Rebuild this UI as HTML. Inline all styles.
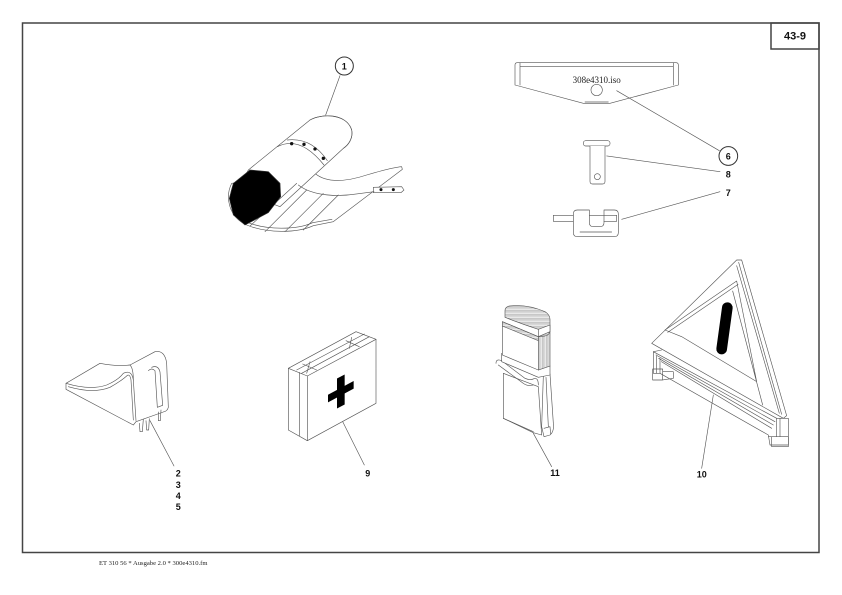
<!DOCTYPE html>
<html>
<head>
<meta charset="utf-8">
<style>
  html,body{margin:0;padding:0;background:#fff;}
  svg{display:block;}
  .d{fill:none;stroke:#555;stroke-width:1.9;stroke-linejoin:round;stroke-linecap:round;}
  .w{fill:#fff;stroke:#555;stroke-width:1.9;stroke-linejoin:round;}
  .lab{font-family:"Liberation Sans",Arial,sans-serif;font-weight:bold;font-size:9px;fill:#111;text-anchor:middle;}
</style>
</head>
<body>
<svg width="842" height="595" viewBox="0 0 842 595" xmlns="http://www.w3.org/2000/svg">
  <defs>
    <pattern id="hh" width="4" height="4" patternUnits="userSpaceOnUse">
      <rect width="4" height="4" fill="#fff"/>
      <line x1="0" y1="1" x2="4" y2="1" stroke="#777" stroke-width="1.2"/>
    </pattern>
    <pattern id="hv" width="4" height="4" patternUnits="userSpaceOnUse">
      <rect width="4" height="4" fill="#fff"/>
      <line x1="1" y1="0" x2="1" y2="4" stroke="#777" stroke-width="1.2"/>
    </pattern>
  </defs>

  <!-- frame -->
  <rect x="22.5" y="23" width="796.5" height="529.5" fill="none" stroke="#444" stroke-width="1.5"/>
  <rect x="771" y="23" width="48" height="26" fill="none" stroke="#444" stroke-width="1.5"/>
  <text x="795" y="39.5" font-family="Liberation Sans, Arial, sans-serif" font-weight="bold" font-size="11" text-anchor="middle" fill="#111">43-9</text>

  <!-- footer -->
  <text x="99" y="565" font-family="Liberation Serif, serif" font-size="6.6" fill="#222">ET 310 56 * Ausgabe 2.0 * 300e4310.fm</text>

  <!-- ITEM 1 : tarp/roll -->
  <g transform="translate(200,50) scale(0.33333)">
    <circle cx="433" cy="48" r="27" fill="#fff" stroke="#333" stroke-width="3"/>
    <path class="d" d="M420,77 L377,195"/>
    <path class="w" d="M345,370 C380,400 440,395 500,375 C550,360 580,352 605,350 L607,358 L400,515 L340,527 C290,550 200,550 140,525 C85,500 75,440 95,400 Z"/>
    <path class="d" d="M100,405 C82,445 92,495 145,518 C200,540 290,540 338,518 L396,508"/>
    <path class="w" d="M330,210 C365,190 440,190 455,240 C460,265 445,285 430,295 L240,470 L110,420 L145,360 Z"/>
    <path class="d" d="M330,210 C365,190 440,190 455,240 C460,265 445,285 430,295"/>
    <path class="d" d="M232,290 Q300,255 372,345"/>
    <path class="d" d="M262,270 Q335,262 382,332"/>
    <circle cx="275" cy="281" r="5" fill="#111"/>
    <circle cx="312" cy="283" r="5" fill="#111"/>
    <circle cx="345" cy="297" r="5" fill="#111"/>
    <circle cx="370" cy="325" r="5" fill="#111"/>
    <path class="w" d="M520,412 L605,410 L612,420 L603,428 L520,428 Z"/>
    <circle cx="543" cy="419" r="4.5" fill="#111"/>
    <circle cx="580" cy="419" r="4.5" fill="#111"/>
    <path class="d" d="M295,405 C340,440 420,440 470,432 L522,425"/>
    <path class="d" d="M320,420 L195,545 M370,430 L255,545 M415,435 L310,540 M290,400 L150,528"/>
    <path d="M100,400 L150,360 L205,365 L240,400 L242,440 L205,488 L135,525 L100,495 L88,445 Z" fill="#000" stroke="#333" stroke-width="2"/>
  </g>
  <text class="lab" x="344.3" y="69.5">1</text>

  <!-- ITEMS 6, 8, 7 -->
  <g transform="translate(500,20) scale(0.33333)">
    <path class="w" d="M45,135 Q45,128 52,128 L528,128 Q535,128 535,135 L535,195 L330,250 L250,250 L45,195 Z"/>
    <path class="d" d="M60,128 L60,195 M520,128 L520,195 M60,140 L520,140 M255,246 L325,246"/>
    <circle class="w" cx="290" cy="210" r="17"/>
    <path class="d" d="M350,212 L658,392"/>
    <circle cx="685" cy="408" r="28" fill="#fff" stroke="#333" stroke-width="3"/>
    <rect class="w" x="250" y="362" width="80" height="16" rx="7"/>
    <path class="w" d="M270,378 L270,484 Q270,492 278,492 L307,492 Q315,492 315,484 L315,378"/>
    <circle class="w" cx="292" cy="470" r="9"/>
    <path class="d" d="M320,408 L660,455"/>
    <path class="w" d="M220,582 Q220,570 232,570 L268,570 L268,608 Q268,620 280,620 L300,620 Q312,620 312,608 L312,570 L343,570 Q355,570 355,582 L355,638 Q355,650 343,650 L232,650 Q220,650 220,638 Z"/>
    <path class="d" d="M160,586 L220,586 M160,604 L220,604 M160,586 L160,604 M268,586 L312,586 M312,604 L350,604 M312,586 L350,586 M350,586 L350,604 M240,636 L335,636"/>
    <path class="d" d="M365,598 L660,515"/>
  </g>
  <text x="596.7" y="83" font-family="Liberation Serif, serif" font-size="9" text-anchor="middle" fill="#222">308e4310.iso</text>
  <text class="lab" x="728.3" y="159.5">6</text>
  <text class="lab" x="728.3" y="177.7">8</text>
  <text class="lab" x="728.3" y="196">7</text>

  <!-- ITEM 2-5 : wheel chock -->
  <g transform="translate(50,330) scale(0.33333)">
    <path class="w" d="M48,160 L150,100 Q200,110 240,105 L315,65 Q345,60 350,100 L355,232 Q352,244 340,246 L258,275 L250,285 L48,178 Z"/>
    <path class="d" d="M48,160 Q120,182 170,165 Q205,150 220,130 Q245,118 250,150 L258,272"/>
    <path class="d" d="M55,170 Q130,192 180,172 Q215,152 232,136 Q240,132 243,150 L250,270"/>
    <path class="d" d="M240,105 Q250,115 250,150"/>
    <path class="d" d="M295,122 Q305,112 315,122 L322,232 M305,112 Q325,104 330,126 L338,226 M322,232 L338,226"/>
    <path class="d" d="M268,280 L270,305 L277,305 L280,268 M288,272 L290,300 L296,300 L298,266 M325,246 L325,272 L331,272 L333,240"/>
    <path class="d" d="M300,272 L372,408"/>
  </g>
  <text class="lab" x="178.3" y="476.7">2</text>
  <text class="lab" x="178.3" y="487.8">3</text>
  <text class="lab" x="178.3" y="498.9">4</text>
  <text class="lab" x="178.3" y="510">5</text>

  <!-- ITEM 9 : first aid kit -->
  <g transform="translate(270,320) scale(0.33333)">
    <path class="w" d="M55,145 L258,35 L318,58 L318,250 L112,362 L55,330 Z"/>
    <path class="d" d="M55,145 L112,168 L318,58 M112,168 L112,362 M88,157 L88,348 M80,150 L283,42 M95,160 L298,50 M98,132 L140,150 M120,125 L110,160 M228,62 L268,80 M245,52 L238,85"/>
    <g transform="matrix(1,-0.534,0,1,0,0)">
      <rect x="201" y="283" width="23" height="90" fill="#000"/>
      <rect x="174" y="317" width="77" height="23" fill="#000"/>
    </g>
    <path class="d" d="M218,305 L283,435"/>
  </g>
  <text class="lab" x="367.7" y="476.7">9</text>

  <!-- ITEM 11 : lamp -->
  <g transform="translate(470,290) scale(0.33333)">
    <path class="w" d="M100,250 L205,290 L215,435 L190,428 L100,385 Z"/>
    <path class="d" d="M100,385 L190,425"/>
    <path class="w" d="M220,258 L240,252 L250,400 Q253,425 240,435 L222,440 L215,410 Z"/>
    <path class="d" d="M228,262 L235,410 M222,415 L240,410 L242,432"/>
    <path class="d" d="M78,220 Q78,205 95,212 L165,265 Q180,272 192,266 Q205,262 205,285 M85,225 L160,280 Q175,290 190,285"/>
    <path class="w" d="M95,190 L205,235 L240,228 L240,255 L205,262 L95,215 Z"/>
    <path class="w" d="M97,95 L205,140 L205,240 L97,195 Z"/>
    <path fill="url(#hv)" stroke="#555" stroke-width="1.9" d="M205,140 L240,125 L240,228 L205,240 Z"/>
    <path fill="url(#hh)" stroke="#555" stroke-width="1.9" d="M97,95 L205,140 L205,152 L97,108 Z"/>
    <path fill="url(#hh)" stroke="#555" stroke-width="1.9" d="M105,62 Q105,50 120,48 Q170,42 225,65 Q240,75 240,88 L240,120 Q240,135 225,138 L205,140 L205,118 Q150,100 105,82 Z"/>
    <path class="w" d="M205,118 L240,105 L240,125 L205,140 Z"/>
    <path class="d" d="M190,430 L245,530"/>
  </g>
  <text class="lab" x="555" y="476">11</text>

  <!-- ITEM 10 : warning triangle -->
  <g transform="translate(620,245) scale(0.33333)">
    <path class="w" d="M100,320 L470,520 L505,520 L505,600 L450,600 L445,570 L120,385 L100,385 Z"/>
    <path class="d" d="M108,330 L465,530 M116,340 L460,540 M124,350 L455,550 M100,320 L125,315 M110,330 L110,385 M120,340 L120,385 M98,372 L128,372 L128,405 L98,405 Z M128,380 L160,380 L160,400 L128,405 M470,520 L470,575 M480,520 L480,575 M445,575 L505,575 M455,575 L455,605 L505,605 L505,575"/>
    <path class="w" d="M95,295 L350,45 L365,45 L500,512 L490,520 Z"/>
    <path class="d" d="M356,52 L485,508 M350,62 L478,505"/>
    <path class="d" d="M135,255 L350,108 L410,410 L185,275 Z M143,262 L354,118 M185,275 L135,255 M338,138 L428,480"/>
    <path d="M322,188 L305,312" stroke="#000" stroke-width="32" stroke-linecap="round" fill="none"/>
    <path class="d" d="M280,450 L245,670"/>
  </g>
  <text class="lab" x="701.7" y="477.7">10</text>
</svg>
</body>
</html>
